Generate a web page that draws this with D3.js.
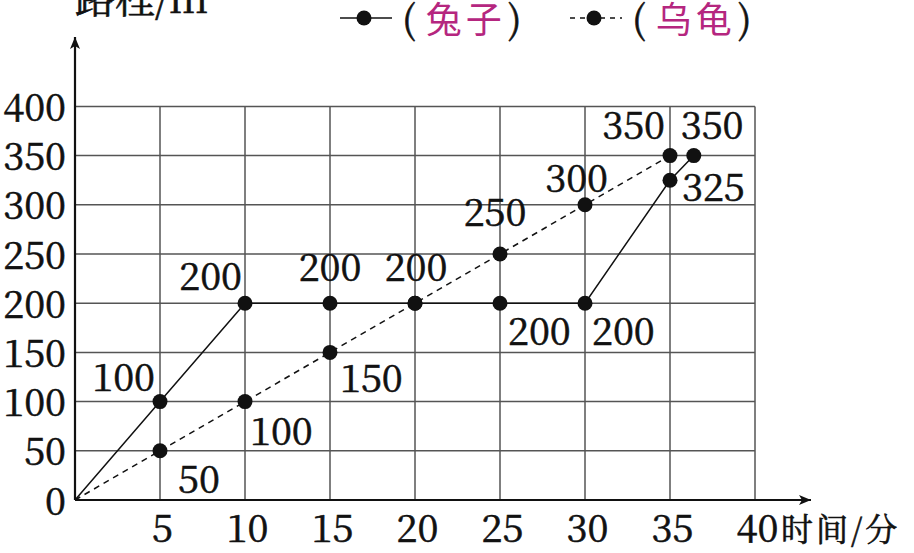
<!DOCTYPE html>
<html>
<head>
<meta charset="utf-8">
<script src="https://cdn.jsdelivr.net/npm/d3@7"></script>
<style>
  body { margin: 0; background: #fff; }
</style>
</head>
<body>
<svg id="chart" width="914" height="553"></svg>
<script>
// data
var xTicks = [5, 10, 15, 20, 25, 30, 35, 40],
    yTicks = [0, 50, 100, 150, 200, 250, 300, 350, 400]

var rabbitTime = [0, 5, 10, 15, 20, 25, 30, 35, 36.4],
    rabbitDist = [0, 100, 200, 200, 200, 200, 200, 325, 350]

var turtleTime = [0, 5, 10, 15, 20, 25, 30, 35],
    turtleDist = [0, 50, 100, 150, 200, 250, 300, 350]

// which point gets a value label, and where it sits
var rabbitLabels = [
  {i: 1, anchor: "end",    dx: -5,  dy: -11},
  {i: 2, anchor: "end",    dx: -3,  dy: -13},
  {i: 3, anchor: "middle", dx: 0,   dy: -22},
  {i: 4, anchor: "middle", dx: 1,   dy: -22},
  {i: 5, anchor: "start",  dx: 8,   dy: 42},
  {i: 6, anchor: "start",  dx: 7,   dy: 42},
  {i: 7, anchor: "start",  dx: 12,  dy: 21},
  {i: 8, anchor: "start",  dx: -13, dy: -17}
]
var turtleLabels = [
  {i: 1, anchor: "start",  dx: 18, dy: 42},
  {i: 2, anchor: "start",  dx: 5,  dy: 43},
  {i: 3, anchor: "start",  dx: 10, dy: 40},
  {i: 5, anchor: "middle", dx: -5, dy: -28},
  {i: 6, anchor: "end",    dx: 23, dy: -13},
  {i: 7, anchor: "end",    dx: -5, dy: -17}
]

var SERIF = "'Noto Serif CJK SC', 'Liberation Serif', serif"

var svg = d3.select("#chart"),
    x = d3.scaleLinear().domain([0, 40]).range([75, 755]),
    y = d3.scaleLinear().domain([0, 400]).range([500, 106.4])

function serif(sel, size) {
  return sel.style("font-family", SERIF).style("font-size", (size || 38) + "px")
    .style("fill", "#111").style("stroke", "#111").style("stroke-width", 0.6)
}

// grid
var grid = svg.append("g").attr("stroke", "#555").attr("stroke-width", 1.5)
grid.selectAll("line.v")
  .data(xTicks)
  .enter().append("line")
    .attr("x1", (d) => x(d)).attr("x2", (d) => x(d))
    .attr("y1", y(0)).attr("y2", y(400))
grid.selectAll("line.h")
  .data(yTicks.filter((d) => d > 0))
  .enter().append("line")
    .attr("x1", x(0)).attr("x2", x(40))
    .attr("y1", (d) => y(d)).attr("y2", (d) => y(d))

// tick labels through the axis generators
var xAxis = svg.append("g")
  .attr("transform", `translate(0,${y(0)})`)
  .call(d3.axisBottom(x).tickValues(xTicks).tickSize(0).tickPadding(0))
var yAxis = svg.append("g")
  .attr("transform", `translate(${x(0)},0)`)
  .call(d3.axisLeft(y).tickValues(yTicks).tickSize(0).tickPadding(0))
;[xAxis, yAxis].forEach((ax) => {
  ax.select(".domain").remove()
  ax.attr("font-family", null).attr("font-size", null)
  serif(ax.selectAll("text").attr("fill", null))
})
xAxis.selectAll("text").attr("y", 42).attr("dy", null).attr("dx", 2)
yAxis.selectAll("text").attr("x", -9).attr("dy", 14)

// axes with arrows
svg.append("defs").append("marker")
  .attr("id", "arrow")
  .attr("viewBox", "0 -5 12 10")
  .attr("refX", 12).attr("refY", 0)
  .attr("markerWidth", 12).attr("markerHeight", 10)
  .attr("markerUnits", "userSpaceOnUse")
  .attr("orient", "auto")
  .append("path").attr("d", "M0,-5L12,0L0,5L3,0Z").attr("fill", "#111")

svg.append("line")
  .attr("x1", x(0)).attr("x2", 811).attr("y1", y(0)).attr("y2", y(0))
  .attr("stroke", "#111").attr("stroke-width", 2.2).attr("marker-end", "url(#arrow)")
svg.append("line")
  .attr("x1", x(0)).attr("x2", x(0)).attr("y1", y(0)).attr("y2", 37)
  .attr("stroke", "#111").attr("stroke-width", 2.2).attr("marker-end", "url(#arrow)")

// series
function drawSeries(times, dists, dash, labels) {
  var pts = times.map((t, i) => [t, dists[i]])
  svg.append("path")
    .datum(pts)
    .attr("fill", "none")
    .attr("stroke", "#111")
    .attr("stroke-width", 1.5)
    .attr("stroke-dasharray", dash)
    .attr("d", d3.line().x((d) => x(d[0])).y((d) => y(d[1])))
  svg.append("g").selectAll("circle")
    .data(pts.slice(1))
    .enter().append("circle")
      .attr("cx", (d) => x(d[0])).attr("cy", (d) => y(d[1]))
      .attr("r", 7.5).attr("fill", "#111")
  serif(svg.append("g").selectAll("text")
    .data(labels)
    .enter().append("text")
      .attr("text-anchor", (d) => d.anchor)
      .attr("x", (d) => x(pts[d.i][0]) + d.dx)
      .attr("y", (d) => y(pts[d.i][1]) + d.dy)
      .text((d) => pts[d.i][1]))
}
drawSeries(turtleTime, turtleDist, "6,5", turtleLabels)
drawSeries(rabbitTime, rabbitDist, null, rabbitLabels)

// titles
serif(svg.append("text").attr("x", 75).attr("y", 13), 40).text("路程/m")

serif(svg.append("text").attr("x", 781).attr("y", 541), 32)
  .attr("letter-spacing", 3)
  .text("时间/分")

// legend
var legend = [
  {name: "兔子", dash: null, x0: 340},
  {name: "乌龟", dash: "5,5", x0: 570}
]
var lg = svg.append("g").selectAll("g")
  .data(legend)
  .enter().append("g")
    .attr("transform", (d) => `translate(${d.x0},18)`)
lg.append("line")
  .attr("x1", 0).attr("x2", 52).attr("y1", 0).attr("y2", 0)
  .attr("stroke", "#111").attr("stroke-width", 1.5)
  .attr("stroke-dasharray", (d) => d.dash)
lg.append("circle").attr("cx", 24).attr("r", 7.5).attr("fill", "#111")
var lt = serif(lg.append("text").attr("x", 62).attr("y", 15), 38)
lt.append("tspan").text("(")
lt.append("tspan").attr("dx", 10).attr("letter-spacing", 4)
  .style("font-family", "'Noto Sans CJK SC', sans-serif").style("font-size", "36px")
  .style("fill", "#b5267f").style("stroke", "none").text((d) => d.name)
lt.append("tspan").attr("dx", 2).text(")")
</script>
</body>
</html>
